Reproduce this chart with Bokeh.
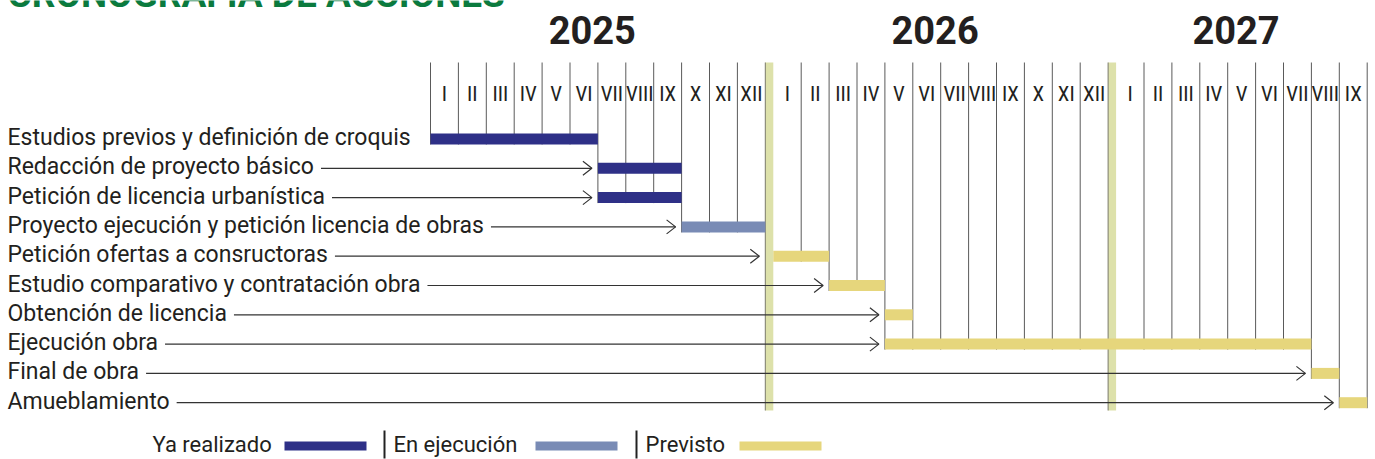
import subprocess
from bokeh.plotting import figure
from bokeh.models import Range1d, ColumnDataSource
from bokeh.core.properties import value
from bokeh.embed import file_html
from bokeh.resources import INLINE

# ---------------- data ----------------
title = "CRONOGRAFÍA DE ACCIONES"
years = ["2025", "2026", "2027"]
month_labels = ["I", "II", "III", "IV", "V", "VI", "VII", "VIII", "IX", "X", "XI", "XII"]
n_months = 33  # enero 2025 .. septiembre 2027

tasks = [
    "Estudios previos y definición de croquis",
    "Redacción de proyecto básico",
    "Petición de licencia urbanística",
    "Proyecto ejecución y petición licencia de obras",
    "Petición ofertas a consructoras",
    "Estudio comparativo y contratación obra",
    "Obtención de licencia",
    "Ejecución obra",
    "Final de obra",
    "Amueblamiento",
]
task_start = [0, 6, 6, 9, 12, 14, 16, 16, 31, 32]   # months since Jan 2025
task_months = [6, 3, 3, 3, 2, 2, 1, 15, 1, 1]
task_status = [0, 0, 0, 1, 2, 2, 2, 2, 2, 2]

status_names = ["Ya realizado", "En ejecución", "Previsto"]
status_colors = ["#2e3087", "#798bb5", "#e6d67c"]


# ---------------- fonts ----------------
def installed_families():
    try:
        out = subprocess.run(["fc-list", ":", "family"], capture_output=True,
                             text=True, timeout=10).stdout
    except Exception:
        return set()
    fams = set()
    for line in out.splitlines():
        for f in line.split(","):
            fams.add(f.strip())
    return fams


fams = installed_families()
num_font, num_size = "Roboto", "17px"
for fam, size in [("Liberation Sans Narrow", "22px"), ("Roboto Condensed", "21px"),
                  ("DejaVu Sans Condensed", "17px")]:
    if fam in fams:
        num_font, num_size = fam, size
        break

# ---------------- layout constants ----------------
W, H = 1375, 459
MONTH_PX = 27.9
ROW_PX = 29.3
ORIGIN_X, ORIGIN_Y = 430, 138.5
GAP = 8 / MONTH_PX          # green band between years
HALF_BAR = 5.5 / ROW_PX
GRID_TOP = (62 - ORIGIN_Y) / ROW_PX
BAND_BOTTOM = (410 - ORIGIN_Y) / ROW_PX
TEXT_COLOR = "#231f20"
GRID_COLOR = "#5a5a5a"
BAND_COLOR = "#dde1aa"
ARROW_COLOR = "#333333"
LABEL_FONT = value("Roboto")
NUM_FONT = value(num_font)


def pos(m):
    return m + (m // 12) * GAP


def end_pos(m_end):
    return pos(m_end - 1) + 1


x0 = (0 - ORIGIN_X) / MONTH_PX
x1 = x0 + W / MONTH_PX
y_top = (0 - ORIGIN_Y) / ROW_PX
y_bot = y_top + H / ROW_PX

p = figure(width=W, height=H, x_range=Range1d(x0, x1), y_range=Range1d(y_bot, y_top),
           output_backend="svg", toolbar_location=None, min_border=0,
           x_axis_location=None, y_axis_location=None)
p.grid.visible = False
p.outline_line_color = None
p.background_fill_color = "white"
p.border_fill_color = "white"
p.extra_x_ranges = {"px": Range1d(0, W)}
p.extra_y_ranges = {"py": Range1d(H, 0)}

rows = list(range(len(tasks)))
lefts = [pos(s) for s in task_start]
rights = [end_pos(s + d) for s, d in zip(task_start, task_months)]

# ---------------- year bands ----------------
band_b = [b for b in range(12, n_months, 12)]
p.quad(left=[end_pos(b) for b in band_b], right=[pos(b) for b in band_b],
       top=[GRID_TOP] * len(band_b), bottom=[BAND_BOTTOM] * len(band_b),
       fill_color=BAND_COLOR, line_color=None)
p.segment(x0=[end_pos(b) for b in band_b], x1=[end_pos(b) for b in band_b],
          y0=[GRID_TOP] * len(band_b), y1=[BAND_BOTTOM] * len(band_b),
          line_color="#7a7a6a", line_width=1)

# ---------------- month grid lines ----------------
gx, gy1 = [], []
for b in range(n_months + 1):
    if b in band_b:
        continue
    x = pos(b)
    touching = [i for i in rows if lefts[i] - 1e-6 <= x <= rights[i] + 1e-6]
    bottom = (max(touching) if touching else 0) + HALF_BAR
    gx.append(x)
    gy1.append(bottom)
p.segment(x0=gx, x1=gx, y0=[GRID_TOP] * len(gx), y1=gy1, line_color=GRID_COLOR, line_width=1)

# ---------------- month & year labels ----------------
p.text(x=[pos(m) + 0.5 for m in range(n_months)], y=[(93 - ORIGIN_Y) / ROW_PX] * n_months,
       text=[month_labels[m % 12] for m in range(n_months)],
       text_align="center", text_baseline="middle", text_font=NUM_FONT,
       text_font_size=num_size, text_color=TEXT_COLOR)

yx = []
for i, _ in enumerate(years):
    first = 12 * i
    last = min(12 * i + 11, n_months - 1)
    yx.append((pos(first) + end_pos(last + 1)) / 2 - 0.2)
p.text(x=yx, y=[(29 - ORIGIN_Y) / ROW_PX] * len(years), text=years,
       text_align="center", text_baseline="middle", text_font=LABEL_FONT,
       text_font_size="38px", text_font_style="bold", text_color=TEXT_COLOR)

# ---------------- bars ----------------
src = ColumnDataSource(dict(
    left=lefts, right=rights,
    top=[r - HALF_BAR for r in rows], bottom=[r + HALF_BAR for r in rows],
    color=[status_colors[s] for s in task_status],
))
p.quad(left="left", right="right", top="top", bottom="bottom", fill_color="color",
       line_color=None, source=src)

# ---------------- arrows from labels to bars ----------------
label_x = x0 + 7 / MONTH_PX
ax0, ax1, ay, chev_x, chev_y = [], [], [], [], []
back = 9 / MONTH_PX
half = 7 / ROW_PX
for i in rows[1:]:
    s = task_start[i]
    edge = end_pos(s) if (s % 12 == 0 and s > 0) else pos(s)
    tip = edge - 6 / MONTH_PX
    ax0.append(label_x + 2 / MONTH_PX)
    ax1.append(tip)
    ay.append(i)
    chev_x.append([tip - back, tip, tip - back])
    chev_y.append([i - half, i, i + half])
p.segment(x0=ax0, x1=ax1, y0=ay, y1=ay, line_color=ARROW_COLOR, line_width=1.2)
p.multi_line(xs=chev_x, ys=chev_y, line_color=ARROW_COLOR, line_width=1.2)

# ---------------- task labels (white background hides arrow start) ----------------
lab_kw = dict(text_align="left", text_baseline="middle", text_font=LABEL_FONT,
              text_color=TEXT_COLOR)
label_y = [r - 0.05 for r in rows]
drawn = False
for pad in (dict(left=0, right=7, top=0, bottom=0), (7, 0), 6):
    try:
        p.text(x=[label_x] * len(tasks), y=label_y, text=tasks,
               background_fill_color="white", padding=pad, text_font_size="23px", **lab_kw)
        drawn = True
        break
    except Exception:
        continue
if not drawn:
    p.text(x=[label_x] * len(tasks), y=label_y, text=tasks, text_font_size="23px", **lab_kw)

# ---------------- title (cut at the top, as in the source) ----------------
p.text(x=[7], y=[-6], text=[title], x_range_name="px", y_range_name="py",
       text_align="left", text_baseline="alphabetic", text_font=LABEL_FONT,
       text_font_size="37px", text_font_style="bold", text_color="#0b7a3e")

# ---------------- legend ----------------
leg_text_x = [152, 393, 645]
leg_bar_l = [284, 535, 739]
leg_bar_r = [366, 617, 821]
leg_sep_x = [384, 636]
p.text(x=leg_text_x, y=[444] * 3, text=status_names, x_range_name="px", y_range_name="py",
       text_font_size="22px", **lab_kw)
p.quad(left=leg_bar_l, right=leg_bar_r, top=[441] * 3, bottom=[450] * 3,
       fill_color=status_colors, line_color=None, x_range_name="px", y_range_name="py")
p.segment(x0=leg_sep_x, x1=leg_sep_x, y0=[430] * 2, y1=[458] * 2, line_color="#222222",
          line_width=2, x_range_name="px", y_range_name="py")

open("out.html", "w").write(file_html(p, INLINE))
